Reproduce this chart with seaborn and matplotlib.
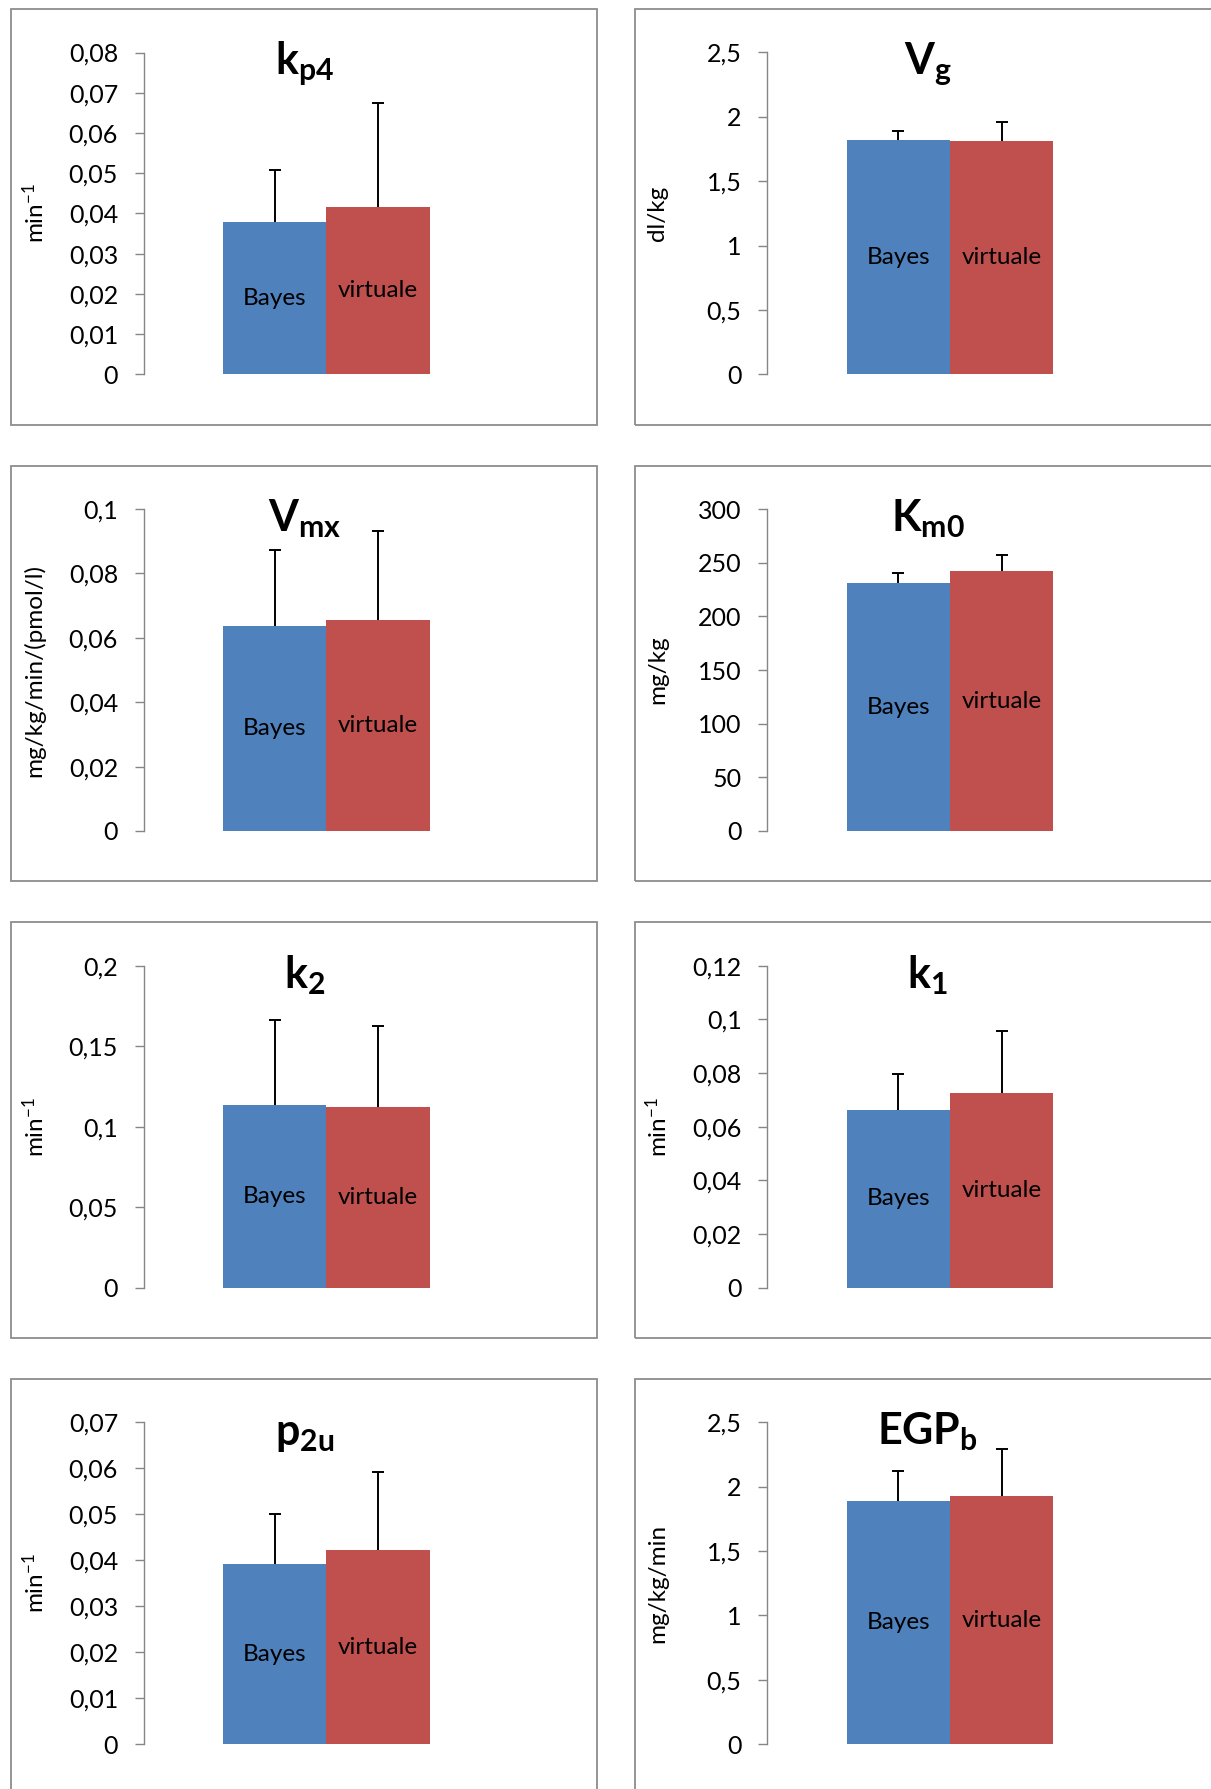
import numpy as np
import pandas as pd
import matplotlib
matplotlib.use("Agg")
import matplotlib.pyplot as plt
from matplotlib.patches import Rectangle
from matplotlib.ticker import FixedLocator, FuncFormatter
import seaborn as sns

# ---- data -------------------------------------------------------------
params = ["kp4", "Vg", "Vmx", "Km0", "k2", "k1", "p2u", "EGPb"]
titles = [r"$\mathbf{k}_{\mathbf{p4}}$", r"$\mathbf{V}_{\mathbf{g}}$",
          r"$\mathbf{V}_{\mathbf{mx}}$", r"$\mathbf{K}_{\mathbf{m0}}$",
          r"$\mathbf{k}_{\mathbf{2}}$", r"$\mathbf{k}_{\mathbf{1}}$",
          r"$\mathbf{p}_{\mathbf{2u}}$", r"$\mathbf{EGP}_{\mathbf{b}}$"]
units = [r"min$^{-1}$", "dl/kg", "mg/kg/min/(pmol/l)", "mg/kg",
         r"min$^{-1}$", r"min$^{-1}$", r"min$^{-1}$", "mg/kg/min"]
series = ["Bayes", "virtuale"]

bayes_mean = [0.0378, 1.82, 0.0636, 231.0, 0.1135, 0.0661, 0.0392, 1.89]
bayes_sd   = [0.0130, 0.07, 0.0236, 9.5, 0.0525, 0.0135, 0.0108, 0.23]
virt_mean  = [0.0415, 1.81, 0.0654, 242.0, 0.1120, 0.0725, 0.0422, 1.925]
virt_sd    = [0.0260, 0.15, 0.0279, 15.5, 0.0505, 0.0232, 0.0170, 0.365]

y_max  = [0.08, 2.5, 0.1, 300, 0.2, 0.12, 0.07, 2.5]
y_step = [0.01, 0.5, 0.02, 50, 0.05, 0.02, 0.01, 0.5]

colors = ["#4F81BD", "#C0504D"]

# ---- style ------------------------------------------------------------
sns.set_theme(style="white")
plt.rcParams["font.family"] = ["Lato", "DejaVu Sans"]
plt.rcParams["mathtext.fontset"] = "custom"
plt.rcParams["mathtext.rm"] = "Lato"
plt.rcParams["mathtext.bf"] = "Lato:bold"
plt.rcParams["mathtext.default"] = "regular"

W, H = 1211, 1789
fig = plt.figure(figsize=(W / 100, H / 100), dpi=100)

def fx(px):
    return px / W

def fy(py):
    return 1 - py / H

row_step = 456.6
col_step = 623.5
box_w, box_h = 586.0, 415.5

def comma_fmt(v, pos):
    s = f"{round(v, 6):g}"
    return s.replace(".", ",")

for i, p in enumerate(params):
    r, c = divmod(i, 2)
    ox = c * col_step
    oy = r * row_step

    # chart frame
    bx, by = 11.4 + ox, 9.1 + oy
    fig.add_artist(Rectangle((fx(bx), fy(by + box_h)), box_w / W, box_h / H,
                             transform=fig.transFigure, fill=False,
                             edgecolor="#8c8c8c", linewidth=1.3, clip_on=False))

    # plot area
    ax_left = 143.8 + ox
    ax_top = 52.5 + oy
    ax_bottom = 374.4 + oy
    ax_w = 365.2
    ax = fig.add_axes([fx(ax_left), fy(ax_bottom), ax_w / W, (ax_bottom - ax_top) / H])

    df = pd.DataFrame({"param": [p, p], "series": series,
                       "value": [bayes_mean[i], virt_mean[i]]})
    sns.barplot(data=df, x="param", y="value", hue="series", hue_order=series,
                palette=colors, width=0.566, saturation=1, errorbar=None,
                legend=False, linewidth=0, ax=ax)

    means = [bayes_mean[i], virt_mean[i]]
    sds = [bayes_sd[i], virt_sd[i]]
    bars = sorted(ax.patches, key=lambda b: b.get_x())
    for b, m, s, name in zip(bars, means, sds, series):
        xc = b.get_x() + b.get_width() / 2
        cont = ax.errorbar([xc], [m], yerr=[[0], [s]], fmt="none", ecolor="black",
                           elinewidth=1.4, capsize=4, capthick=1.4, zorder=3)
        # keep only the upper cap
        for cap in cont.lines[1]:
            if np.isclose(np.asarray(cap.get_ydata())[0], m):
                cap.set_visible(False)
        ax.text(xc, m / 2, name, ha="center", va="center", fontsize=17.5,
                color="black", zorder=4)

    ax.set_xlim(-0.5, 0.5)
    ax.set_ylim(0, y_max[i])
    ax.yaxis.set_major_locator(FixedLocator(np.arange(0, y_max[i] + y_step[i] / 2, y_step[i])))
    ax.yaxis.set_major_formatter(FuncFormatter(comma_fmt))
    ax.set_xticks([])
    ax.set_xlabel("")
    ax.set_ylabel("")
    for side in ["top", "right", "bottom"]:
        ax.spines[side].set_visible(False)
    ax.spines["left"].set_color("#868686")
    ax.spines["left"].set_linewidth(1.0)
    ax.tick_params(axis="y", which="major", direction="out", length=6.5, width=1.0,
                   color="#868686", labelsize=18, pad=12, left=True,
                   labelcolor="black")
    ax.set_facecolor("none")

    # title and axis unit
    fig.text(fx(bx + box_w / 2), fy(74.8 + oy), titles[i], ha="center",
             va="baseline", fontsize=31, color="black")
    fig.text(fx(bx + 23), fy((ax_top + ax_bottom) / 2), units[i], rotation=90,
             ha="center", va="center", fontsize=17.5, color="black")

fig.savefig("out.png", dpi=100, facecolor="white")
